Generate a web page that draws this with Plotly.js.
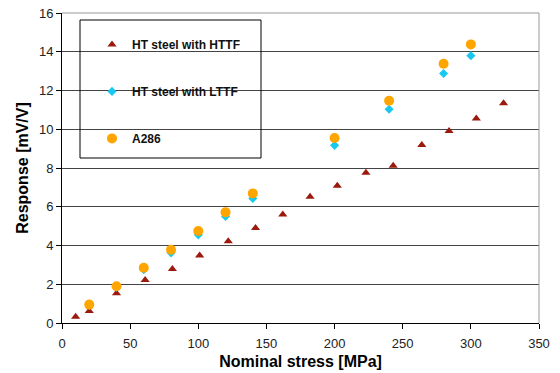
<!DOCTYPE html>
<html><head><meta charset="utf-8">
<script src="https://cdn.plot.ly/plotly-3.0.1.min.js"></script>
<style>html,body{margin:0;padding:0;background:#fff}#chart{width:560px;height:373px}</style>
</head><body><div id="chart"></div>
<script>
const httfX = [10, 20, 40, 61, 81, 101, 122, 142, 162, 182, 202, 223, 243, 264, 284, 304, 324];
const httfY = [0.32, 0.62, 1.53, 2.22, 2.79, 3.49, 4.22, 4.9, 5.6, 6.52, 7.09, 7.76, 8.12, 9.19, 9.91, 10.56, 11.34];
const lttfX = [20, 40, 60, 80, 100, 120, 140, 200, 240, 280, 300];
const lttfY = [0.9, 1.85, 2.75, 3.62, 4.55, 5.5, 6.43, 9.17, 11.03, 12.88, 13.8];
const a286X = [20, 40, 60, 80, 100, 120, 140, 200, 240, 280, 300];
const a286Y = [0.95, 1.9, 2.85, 3.78, 4.75, 5.71, 6.69, 9.55, 11.47, 13.38, 14.38];
const names = ['HT steel with HTTF', 'HT steel with LTTF', 'A286'];

const traces = [
  {x: httfX, y: httfY, name: names[0], mode: 'markers', type: 'scatter', legendgroup: 'a',
   marker: {symbol: 'triangle-up', size: 8, color: '#9B1A0E'}},
  {x: lttfX, y: lttfY, name: names[1], mode: 'markers', type: 'scatter', legendgroup: 'b',
   marker: {symbol: 'diamond', size: 7, color: '#19C8F0'}},
  {x: a286X, y: a286Y, name: names[2], mode: 'markers', type: 'scatter', legendgroup: 'c',
   marker: {symbol: 'circle', size: 10, color: '#FFA500'}}
];

const layout = {
  width: 560, height: 373,
  margin: {l: 62, r: 21, t: 13, b: 50},
  paper_bgcolor: '#fff', plot_bgcolor: '#fff',
  font: {family: 'Liberation Sans, Arial, sans-serif', size: 13, color: '#222'},
  showlegend: true,
  legend: {
    x: 0.0629, y: 0.9455, xanchor: 'left', yanchor: 'top',
    bgcolor: 'rgba(0,0,0,0)', borderwidth: 0,
    traceorder: 'grouped', tracegroupgap: 28,
    font: {family: 'Liberation Sans, Arial, sans-serif', size: 12, color: '#111', weight: 'bold'},
    itemwidth: 30
  },
  xaxis: {
    range: [0, 350], dtick: 50, tick0: 0,
    showgrid: false, zeroline: false,
    showline: true, linecolor: '#000', linewidth: 1,
    ticks: 'outside', ticklen: 5, tickcolor: '#000',
    ticklabelstandoff: 3,
    tickfont: {size: 13, color: '#222'},
    title: {text: 'Nominal stress [MPa]', font: {size: 16, color: '#000', weight: 'bold'}, standoff: 6}
  },
  yaxis: {
    range: [0, 16], dtick: 2, tick0: 0,
    showgrid: true, gridcolor: '#444', gridwidth: 1,
    zeroline: false,
    showline: true, linecolor: '#000', linewidth: 1,
    ticks: 'outside', ticklen: 5, tickcolor: '#000',
    tickfont: {size: 13, color: '#222'},
    title: {text: 'Response [mV/V]', font: {size: 16, color: '#000', weight: 'bold'}, standoff: 6}
  },
  shapes: [
    {type: 'line', xref: 'paper', yref: 'paper', x0: 0, x1: 1, y0: 1, y1: 1, line: {color: '#999', width: 1}},
    {type: 'line', xref: 'paper', yref: 'paper', x0: 1, x1: 1, y0: 0, y1: 1, line: {color: '#999', width: 1}},
    {type: 'rect', xref: 'paper', yref: 'paper', layer: 'above',
     x0: (80 - 62) / 477, x1: (261 - 62) / 477, y0: (323 - 158) / 310, y1: (323 - 20) / 310,
     fillcolor: 'rgba(0,0,0,0)', line: {color: '#000', width: 1}}
  ]
};

Plotly.newPlot('chart', traces, layout, {displayModeBar: false, staticPlot: true});
</script>
</body></html>
